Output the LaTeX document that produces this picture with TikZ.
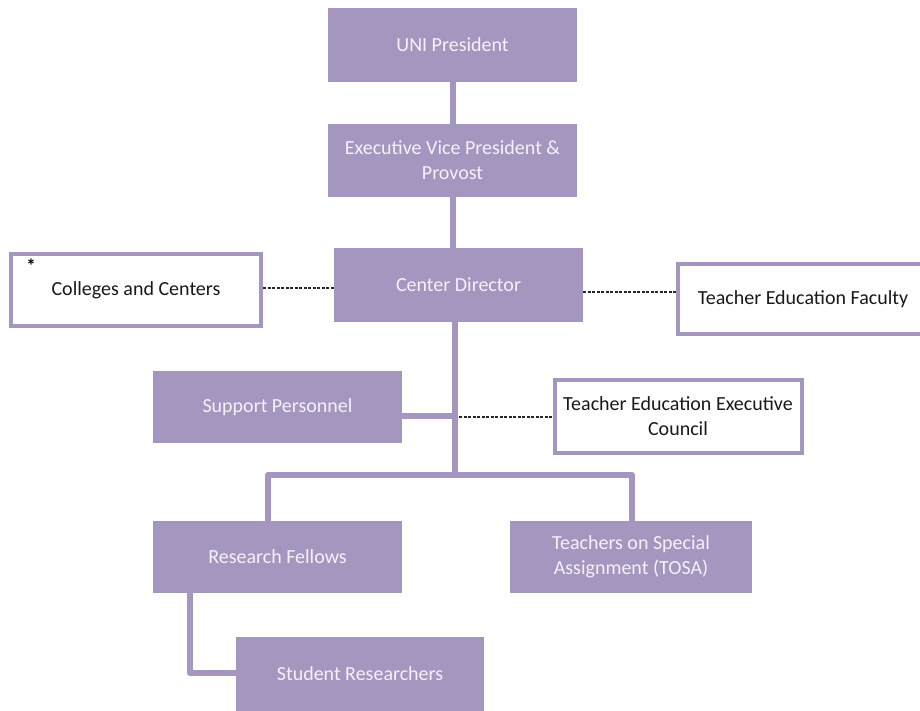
\documentclass[tikz,border=0pt]{standalone}
\usepackage{fontspec}
\setmainfont{Carlito}
\definecolor{pur}{RGB}{165,150,192}
\definecolor{ptext}{RGB}{244,241,248}
\begin{document}
\begin{tikzpicture}[x=1pt,y=-1pt,
  pbox/.style={rectangle,fill=pur,draw=none,inner sep=0pt,text=ptext,align=center,font=\fontsize{20}{25}\selectfont},
  wbox/.style={rectangle,fill=white,draw=pur,line width=4pt,inner sep=0pt,text=black!90,align=center,font=\fontsize{20}{25}\selectfont},
  conn/.style={draw=pur,line width=6pt},
  dashconn/.style={draw=black!85,line width=1.5pt,dash pattern=on 3pt off 1.5pt}]
\useasboundingbox (0,0) rectangle (920,710);
\fill[white] (0,0) rectangle (920,710);
% nodes
\node[pbox,minimum width=249pt,minimum height=74pt] (pres) at (452.5,45) {UNI President};
\node[pbox,minimum width=249pt,minimum height=73pt] (evp) at (452.5,160.5) {Executive Vice President \&\\Provost};
\node[pbox,minimum width=249pt,minimum height=74pt] (dir) at (458.5,285) {Center Director};
\node[wbox,minimum width=250pt,minimum height=72pt] (coll) at (136,290) {Colleges and Centers};
\node[font=\fontsize{19}{19}\selectfont\bfseries] (ast) at (31,266) {*};
\node[wbox,minimum width=258pt,minimum height=70pt] (tef) at (807,299) {\hspace*{-8pt}Teacher Education Faculty};
\node[pbox,minimum width=249pt,minimum height=72pt] (sup) at (277.5,407) {Support Personnel};
\node[wbox,minimum width=247pt,minimum height=73pt] (teec) at (678,416) {Teacher Education Executive\\Council};
\node[pbox,minimum width=249pt,minimum height=72pt] (rf) at (277.5,557) {Research Fellows};
\node[pbox,minimum width=242pt,minimum height=72pt] (tosa) at (631,557) {Teachers on Special\\Assignment (TOSA)};
\node[pbox,minimum width=248pt,minimum height=74pt] (stu) at (360,674) {Student Researchers};
% junction coordinates
\coordinate (vx) at (453,0);
\coordinate (j) at (455,475);
\coordinate (jl) at (268,475);
\coordinate (jr) at (632,475);
\coordinate (jd) at (190,673);
\coordinate (js) at (455,416);
\coordinate (jt) at (459,417);
% connectors
\draw[conn] (pres.south -| vx) -- (evp.north -| vx);
\draw[conn] (evp.south -| vx) -- (dir.north -| vx);
\draw[conn] (dir.south -| j) -- (j);
\draw[conn,line join=round] (rf.north -| jl) -- (jl) -- (jr) -- (tosa.north -| jr);
\draw[conn,line join=round] (rf.south -| jd) -- (jd) -- (stu.west |- jd);
\draw[conn] (sup.east |- js) -- (js);
\draw[dashconn] (coll.east |- 0,288) -- (dir.west |- 0,288);
\draw[dashconn] (dir.east |- 0,292) -- (tef.west |- 0,292);
\draw[dashconn] (jt) -- (teec.west |- jt);
\end{tikzpicture}
\end{document}
